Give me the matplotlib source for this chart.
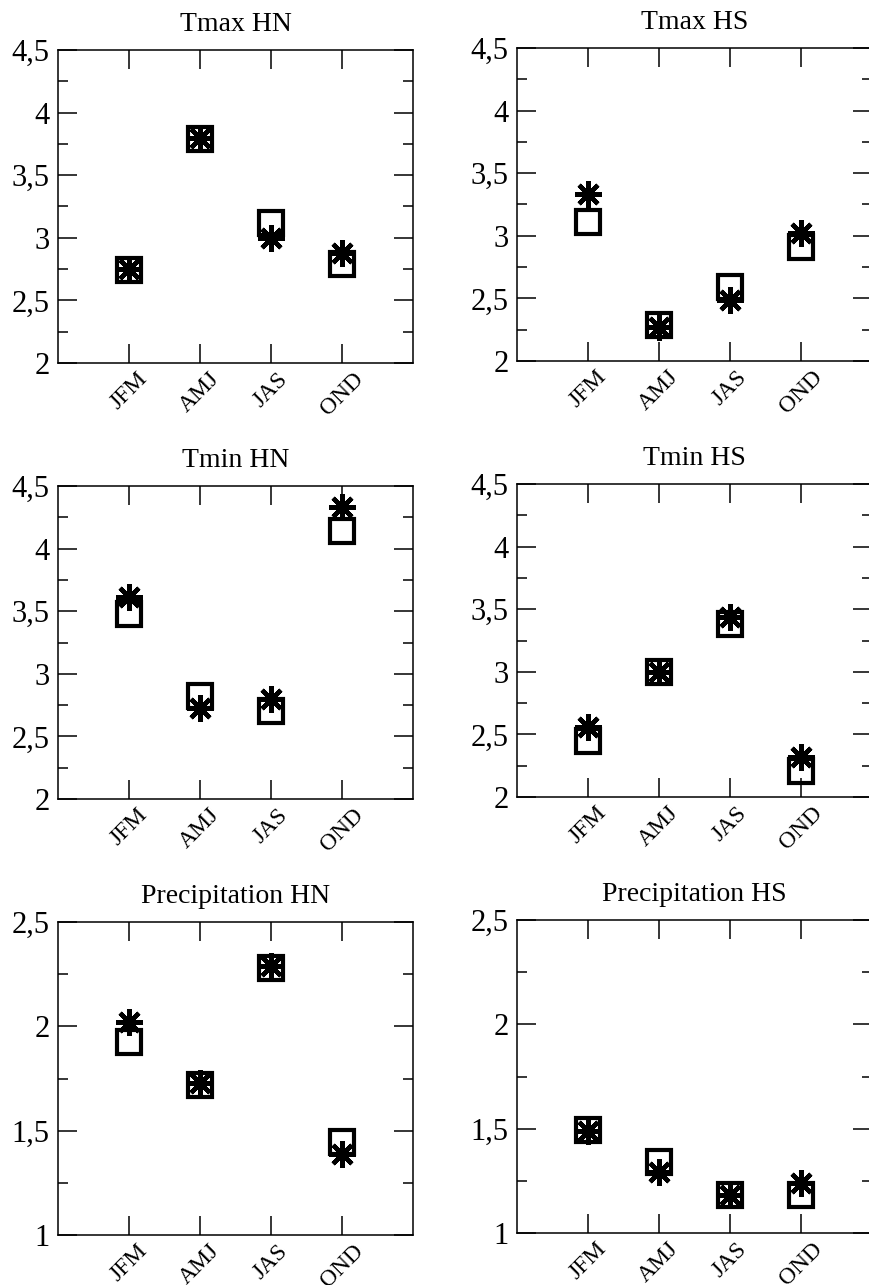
# seasonal scatter panels, squares vs asterisks
import matplotlib
matplotlib.use('Agg')
import matplotlib.pyplot as plt
from matplotlib.ticker import MultipleLocator, FuncFormatter

plt.rcParams['font.family'] = ['Liberation Serif', 'DejaVu Serif']

# data
seasons = ['JFM', 'AMJ', 'JAS', 'OND']
titles = ['Tmax HN', 'Tmax HS', 'Tmin HN', 'Tmin HS',
          'Precipitation HN', 'Precipitation HS']

tmax_hn_sq = [2.74, 3.79, 3.12, 2.79]
tmax_hn_ast = [2.75, 3.80, 3.00, 2.88]
tmax_hs_sq = [3.11, 2.29, 2.59, 2.91]
tmax_hs_ast = [3.33, 2.27, 2.49, 3.02]
tmin_hn_sq = [3.48, 2.82, 2.70, 4.14]
tmin_hn_ast = [3.61, 2.73, 2.80, 4.33]
tmin_hs_sq = [2.45, 3.00, 3.38, 2.21]
tmin_hs_ast = [2.56, 3.00, 3.44, 2.32]
prec_hn_sq = [1.925, 1.72, 2.28, 1.445]
prec_hn_ast = [2.02, 1.73, 2.29, 1.39]
prec_hs_sq = [1.495, 1.34, 1.18, 1.18]
prec_hs_ast = [1.49, 1.29, 1.18, 1.24]

squares = [tmax_hn_sq, tmax_hs_sq, tmin_hn_sq, tmin_hs_sq, prec_hn_sq, prec_hs_sq]
asters = [tmax_hn_ast, tmax_hs_ast, tmin_hn_ast, tmin_hs_ast, prec_hn_ast, prec_hs_ast]
ylims = [(2, 4.5), (2, 4.5), (2, 4.5), (2, 4.5), (1, 2.5), (1, 2.5)]

fig = plt.figure(figsize=(8.7, 12.85), dpi=100)

col_x = [58 / 870, 517 / 870]
w = 355 / 870
h = 313 / 1285
row_tops = [50, 486, 922]

x = [1, 2, 3, 4]
comma = FuncFormatter(lambda v, p: ('%g' % v).replace('.', ','))

for i in range(6):
    r, c = divmod(i, 2)
    top = row_tops[r] - (2 if c == 1 else 0)
    ax = fig.add_axes([col_x[c], 1 - (top + 313) / 1285, w, h])

    ax.plot(x, squares[i], linestyle='none', marker='s', ms=17,
            mfc='none', mec='black', mew=3.0)
    ax.plot(x, asters[i], linestyle='none', marker=(8, 2, 0), ms=19,
            mec='black', mew=3.2)

    ax.set_xlim(0, 5)
    ax.set_ylim(*ylims[i])
    ax.set_xticks(x)
    ax.set_xticklabels(seasons, rotation=45, ha='center', fontsize=17)
    ax.yaxis.set_major_locator(MultipleLocator(0.5))
    ax.yaxis.set_minor_locator(MultipleLocator(0.25))
    ax.yaxis.set_major_formatter(comma)
    ax.tick_params(axis='y', labelsize=22, pad=6)
    ax.tick_params(axis='x', pad=4)
    ax.tick_params(which='major', direction='in', length=14, width=1.1,
                   top=True, right=True)
    ax.tick_params(which='minor', direction='in', length=7, width=1.1,
                   right=True)
    for s in ax.spines.values():
        s.set_linewidth(1.1)
    ax.set_title(titles[i], fontsize=20, pad=14)

fig.savefig('out.png', dpi=100)
